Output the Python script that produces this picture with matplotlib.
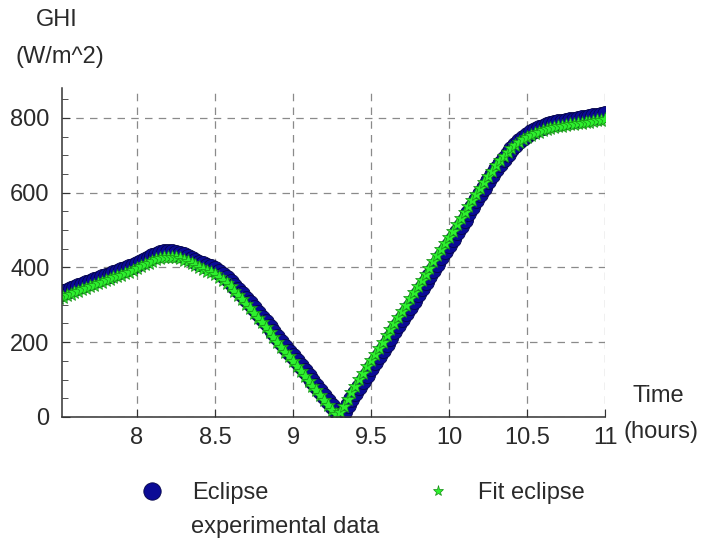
import numpy as np
import matplotlib
matplotlib.use("Agg")
import matplotlib.pyplot as plt
from matplotlib.ticker import MultipleLocator

plt.rcParams['font.family'] = ['Liberation Sans', 'DejaVu Sans']

# time of day (hours), one sample every 1.5 minutes
hours = [7.500, 7.525, 7.550, 7.575, 7.600, 7.625, 7.650, 7.675, 7.700, 7.725,
         7.750, 7.775, 7.800, 7.825, 7.850, 7.875, 7.900, 7.925, 7.950, 7.975,
         8.000, 8.025, 8.050, 8.075, 8.100, 8.125, 8.150, 8.175, 8.200, 8.225,
         8.250, 8.275, 8.300, 8.325, 8.350, 8.375, 8.400, 8.425, 8.450, 8.475,
         8.500, 8.525, 8.550, 8.575, 8.600, 8.625, 8.650, 8.675, 8.700, 8.725,
         8.750, 8.775, 8.800, 8.825, 8.850, 8.875, 8.900, 8.925, 8.950, 8.975,
         9.000, 9.025, 9.050, 9.075, 9.100, 9.125, 9.150, 9.175, 9.200, 9.225,
         9.250, 9.275, 9.300, 9.325, 9.350, 9.375, 9.400, 9.425, 9.450, 9.475,
         9.500, 9.525, 9.550, 9.575, 9.600, 9.625, 9.650, 9.675, 9.700, 9.725,
         9.750, 9.775, 9.800, 9.825, 9.850, 9.875, 9.900, 9.925, 9.950, 9.975,
         10.000, 10.025, 10.050, 10.075, 10.100, 10.125, 10.150, 10.175, 10.200, 10.225,
         10.250, 10.275, 10.300, 10.325, 10.350, 10.375, 10.400, 10.425, 10.450, 10.475,
         10.500, 10.525, 10.550, 10.575, 10.600, 10.625, 10.650, 10.675, 10.700, 10.725,
         10.750, 10.775, 10.800, 10.825, 10.850, 10.875, 10.900, 10.925, 10.950, 10.975,
         11.000]

# measured GHI (W/m^2)
ghi_measured = [330, 333, 337, 341, 345, 349, 353, 357, 361, 365,
                369, 373, 377, 381, 385, 389, 393, 397, 401, 405,
                410, 415, 420, 425, 430, 434, 438, 440, 441, 441,
                439, 436, 432, 428, 423, 418, 413, 408, 403, 400,
                396, 388, 380, 371, 362, 351, 340, 328, 316, 304,
                291, 279, 266, 253, 240, 227, 214, 201, 188, 175,
                162, 149, 136, 123, 110, 97, 84, 70, 57, 43,
                30, 16, 4, 14, 31, 47, 64, 80, 97, 113,
                130, 146, 163, 179, 196, 212, 229, 245, 262, 278,
                295, 311, 328, 344, 361, 377, 394, 410, 427, 443,
                460, 477, 494, 511, 528, 545, 562, 579, 596, 613,
                630, 646, 662, 677, 691, 704, 716, 727, 737, 746,
                754, 761, 767, 772, 776, 780, 783, 786, 788, 790,
                792, 794, 795, 797, 799, 800, 802, 804, 806, 808,
                810]

# fitted eclipse model (W/m^2)
ghi_fit = [318, 321, 325, 329, 333, 337, 341, 345, 349, 353,
           357, 361, 365, 369, 373, 377, 381, 385, 389, 393,
           398, 403, 408, 413, 418, 422, 426, 428, 429, 429,
           427, 424, 420, 416, 411, 406, 401, 396, 391, 387,
           383, 375, 367, 358, 349, 338, 327, 315, 303, 291,
           278, 266, 253, 240, 227, 214, 201, 188, 175, 162,
           149, 136, 123, 110, 97, 84, 71, 58, 45, 32,
           20, 8, 12, 30, 48, 66, 84, 101, 118, 135,
           152, 168, 185, 201, 218, 234, 251, 267, 284, 300,
           317, 333, 350, 366, 383, 399, 416, 432, 449, 465,
           482, 498, 515, 531, 548, 564, 581, 597, 613, 629,
           644, 659, 673, 686, 698, 709, 719, 728, 736, 743,
           749, 754, 759, 763, 767, 770, 773, 775, 777, 779,
           781, 783, 784, 786, 787, 789, 790, 792, 793, 794,
           796]

fig = plt.figure(figsize=(7.06, 5.46), dpi=100)
ax = fig.add_axes([0.0878, 0.2363, 0.7692, 0.6027])

ax.plot(hours, ghi_measured, 'o', color='#0b0b96', markeredgecolor='#05054a',
        markeredgewidth=0.6, markersize=11.5, label='Eclipse')
ax.plot(hours, ghi_fit, '*', color='#2ef02e', markeredgecolor='#168c16',
        markeredgewidth=0.5, markersize=10, label='Fit eclipse')

ax.set_xlim(7.52, 11)
ax.set_ylim(0, 880)
ax.set_xticks([8, 8.5, 9, 9.5, 10, 10.5, 11])
ax.set_xticklabels(['8', '8.5', '9', '9.5', '10', '10.5', '11'])
ax.yaxis.set_major_locator(MultipleLocator(200))
ax.yaxis.set_minor_locator(MultipleLocator(50))

ax.grid(True, which='major', linestyle=(0, (6, 5)), color='#8a8a8a', linewidth=0.9)
ax.spines['top'].set_visible(False)
ax.spines['right'].set_visible(False)
for s in ('left', 'bottom'):
    ax.spines[s].set_color('#333333')
    ax.spines[s].set_linewidth(1.1)
ax.tick_params(which='major', direction='in', length=6, labelsize=17,
               colors='#333333', labelcolor='#2a2a2a')
ax.tick_params(axis='x', pad=7)
ax.tick_params(axis='y', pad=9)
ax.tick_params(which='minor', direction='in', length=4, colors='#333333')

txt = dict(fontsize=17, color='#2a2a2a', ha='center', va='center')
fig.text(57 / 706, 1 - 20 / 546, 'GHI', **txt)
fig.text(60 / 706, 1 - 57 / 546, '(W/m^2)', **txt)
fig.text(658 / 706, 1 - 396 / 546, 'Time', **txt)
fig.text(661 / 706, 1 - 432 / 546, '(hours)', **txt)

leg = ax.legend(loc='center left', bbox_to_anchor=(128 / 706, 1 - 493 / 546),
                bbox_transform=fig.transFigure, ncol=2, frameon=False,
                fontsize=17, handlelength=2.0, handletextpad=0.7,
                columnspacing=6.2, borderpad=0, borderaxespad=0,
                numpoints=1, labelcolor='#2a2a2a')
leg.legend_handles[0].set_markersize(12.5)
leg.legend_handles[1].set_markersize(8)
fig.text(191 / 706, 1 - 527 / 546, 'experimental data', fontsize=17,
         color='#2a2a2a', ha='left', va='center')

fig.savefig('out.png', dpi=100)
